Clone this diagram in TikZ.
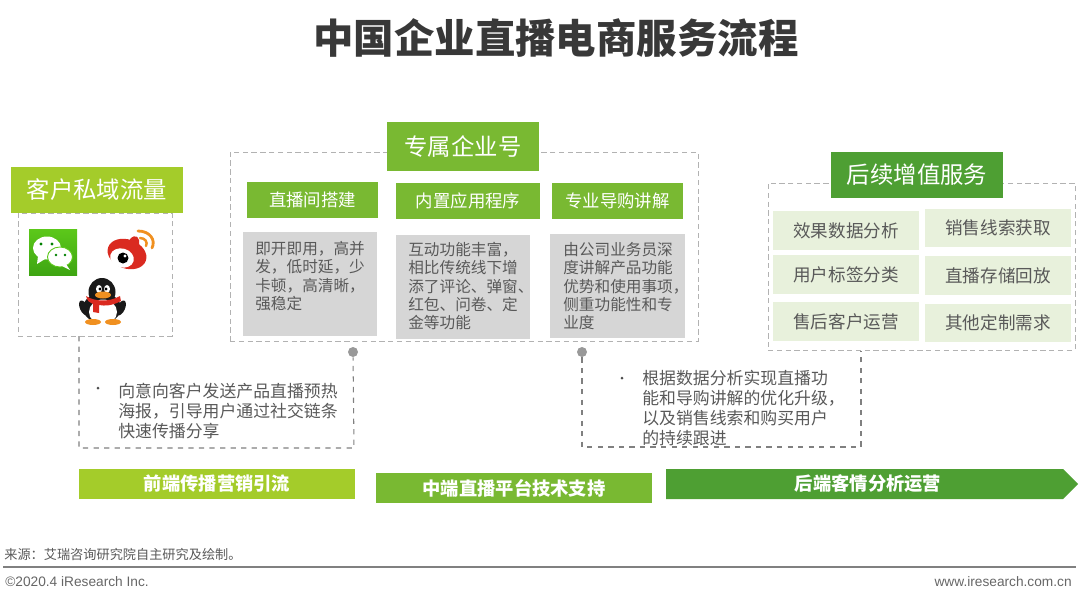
\documentclass[tikz,border=0pt]{standalone}
\usepackage{fontspec}
\setmainfont{Noto Sans CJK SC}
\newfontfamily\latinfont{Liberation Sans}
\usetikzlibrary{shapes.geometric,arrows.meta,positioning,calc}
\definecolor{limegreen}{HTML}{A4CC2A}
\definecolor{midgreen}{HTML}{79B932}
\definecolor{deepgreen}{HTML}{4E9F33}
\definecolor{cellgreen}{HTML}{E8F1DC}
\definecolor{greybox}{HTML}{D6D6D6}
\definecolor{bodygrey}{HTML}{595959}
\definecolor{weibored}{HTML}{DA2A20}
\definecolor{iconorange}{HTML}{F09020}
\definecolor{chatlight}{HTML}{5CC81A}
\definecolor{chatdark}{HTML}{3EA512}
\tikzset{
    framebox/.style={draw=black!30, densely dashed, line width=0.4pt, inner sep=0},
    headbox/.style={fill=#1, text=white, inner sep=0, font=\fontsize{13.3}{15}\selectfont},
    subbox/.style={fill=midgreen, text=white, inner sep=0, minimum height=0.72cm, font=\fontsize{9.9}{12}\selectfont},
    greyrect/.style={fill=greybox, inner sep=0, minimum width=2.68cm, minimum height=2.08cm},
    greytext/.style={anchor=north west, align=left, inner sep=0, text=bodygrey, font=\fontsize{8.9}{10.4}\selectfont},
    cellbox/.style={fill=cellgreen, text=bodygrey, inner sep=0, minimum width=2.92cm, minimum height=0.78cm, font=\fontsize{10}{12}\selectfont},
    notetext/.style={anchor=north west, align=left, inner sep=0, text=bodygrey, font=\fontsize{9.6}{11.35}\selectfont},
    bulletmark/.style={circle, fill=black!70, inner sep=0, minimum size=0.06cm},
    barbox/.style={fill=#1, text=white, inner sep=0, minimum width=5.52cm, minimum height=0.6cm, font=\fontsize{10.4}{12}\selectfont\bfseries},
    leadline/.style={draw=black!50, dashed, line width=0.6pt},
    leaddot/.style={circle, fill=black!40, inner sep=0, minimum size=0.2cm},
}
\begin{document}
\begin{tikzpicture}[x=0.02cm,y=-0.02cm]
    \useasboundingbox (0,0) rectangle (1080,602);

    \node[font=\fontsize{23}{26}\selectfont\bfseries, text=black!78] (title) at (556,38) {中国企业直播电商服务流程};

    % Customer traffic
    \node[framebox, minimum width=3.08cm, minimum height=2.46cm] (flowframe) at (95,274.5) {};
    \node[headbox=limegreen, minimum width=3.44cm, minimum height=0.92cm] (flowhead) at (97,190) {客户私域流量};

    % WeChat icon
    \shade[top color=chatlight, bottom color=chatdark] (29,229) rectangle (77,275);
    \fill[white] (47,248) ellipse [x radius=14, y radius=11.5];
    \fill[white] (38,256) -- (37,264) -- (45,259) -- cycle;
    \fill[white, draw=chatlight, line width=0.5pt] (60,257) ellipse [x radius=12.5, y radius=10];
    \fill[white] (66,264) -- (70,270) -- (62,266) -- cycle;
    \fill[green!50!black] (41,244) circle [radius=1.6] (52,244) circle [radius=1.6] (56,255) circle [radius=1.3] (65,255) circle [radius=1.3];

    % Weibo icon
    \fill[weibored, rotate around={-20:(127,254)}] (127,254) ellipse [x radius=20, y radius=14.5];
    \fill[weibored] (128,244) .. controls (130,235) and (138,234) .. (139,240) .. controls (141,246) and (135,252) .. (128,250) -- cycle;
    \fill[white, rotate around={-15:(122,258)}] (122,258) ellipse [x radius=12, y radius=9.5];
    \fill[black] (123,258) circle [radius=5.5];
    \fill[white] (125,256) circle [radius=1.6];
    \draw[iconorange, line width=1.6pt, line cap=round] (138,231) .. controls (150,231) and (156,240) .. (152,248);
    \draw[iconorange, line width=1.4pt, line cap=round] (140,238) .. controls (145,238) and (148,242) .. (146,246);

    % QQ icon
    \fill[black!90] (102,292) ellipse [x radius=13.5, y radius=14];
    \fill[black!90] (102,308) ellipse [x radius=19, y radius=15];
    \fill[black!90, rotate around={25:(84,308)}] (84,308) ellipse [x radius=4, y radius=8];
    \fill[black!90, rotate around={-25:(121,308)}] (121,308) ellipse [x radius=4, y radius=8];
    \fill[white] (103,312) ellipse [x radius=14, y radius=12.5];
    \fill[iconorange] (93,322) ellipse [x radius=8, y radius=3];
    \fill[iconorange] (113,322) ellipse [x radius=8, y radius=3];
    \fill[white] (99,289) ellipse [x radius=3, y radius=4] (107,289) ellipse [x radius=3, y radius=4];
    \fill[black] (100,289) circle [radius=1.6] (106,289) circle [radius=1.6];
    \fill[weibored] (86,296) .. controls (95,302) and (110,302) .. (120,296) -- (121,301) .. controls (112,306) and (104,306) .. (99,305) -- (99,313) -- (93,312) -- (93,304) .. controls (90,303) and (87,301) .. (86,296) -- cycle;
    \fill[iconorange] (103,295) ellipse [x radius=8, y radius=3.5];

    % Enterprise account
    \node[framebox, minimum width=9.36cm, minimum height=3.78cm] (corpframe) at (464,246.5) {};
    \node[headbox=midgreen, minimum width=3.04cm, minimum height=0.98cm] (corphead) at (463,146.5) {专属企业号};

    \node[subbox, minimum width=2.62cm] (subroom) at (312.5,200) {直播间搭建};
    \node[subbox, minimum width=2.88cm] (subapp) at (468,201) {内置应用程序};
    \node[subbox, minimum width=2.62cm] (subguide) at (617.5,201) {专业导购讲解};

    \node[greyrect] (greyroom) at (310,284) {};
    \node[greyrect] (greyapp) at (463,287) {};
    \node[greyrect, minimum width=2.7cm] (greyguide) at (617.5,286) {};

    \node[greytext] (textroom) at (255,241) {即开即用，高并\\发，低时延，少\\卡顿，高清晰，\\强稳定};
    \node[greytext] (textapp) at (408,242) {互动功能丰富，\\相比传统线下增\\添了评论、弹窗、\\红包、问卷、定\\金等功能};
    \node[greytext] (textguide) at (563,242) {由公司业务员深\\度讲解产品功能\\优势和使用事项，\\侧重功能性和专\\业度};

    % Follow-up services
    \node[framebox, minimum width=6.14cm, minimum height=3.34cm] (servframe) at (921.5,266.5) {};
    \node[headbox=deepgreen, minimum width=3.44cm, minimum height=0.92cm] (servhead) at (917,175) {后续增值服务};

    \node[cellbox] (cellA) at (846,230.5) {效果数据分析};
    \node[cellbox] (cellB) at (846,274.5) {用户标签分类};
    \node[cellbox] (cellC) at (846,321.5) {售后客户运营};
    \node[cellbox] (cellD) at (998,228) {销售线索获取};
    \node[cellbox] (cellE) at (998,275.5) {直播存储回放};
    \node[cellbox] (cellF) at (998,323) {其他定制需求};

    % Dashed leads
    \node[leaddot] (dotleft) at (353,352) {};
    \node[leaddot] (dotright) at (582,352) {};
    \coordinate (flowfoot) at (79,336);
    \coordinate (cornerA) at (79,448);
    \coordinate (cornerB) at (354,448);
    \coordinate (cornerC) at (582,447);
    \coordinate (cornerD) at (861,447);
    \coordinate (servfoot) at (861,351);
    \draw[leadline] (flowfoot) -- (cornerA) -- (cornerB) -- (dotleft);
    \draw[leadline] (dotright) -- (cornerC) -- (cornerD) -- (servfoot);

    \node[bulletmark] (bulletleft) at (98,388) {};
    \node[notetext] (noteleft) at (118,383) {向意向客户发送产品直播预热\\海报，引导用户通过社交链条\\快速传播分享};
    \node[bulletmark] (bulletright) at (622,378) {};
    \node[notetext] (noteright) at (642,370) {根据数据分析实现直播功\\能和导购讲解的优化升级，\\以及销售线索和购买用户\\的持续跟进};

    % Bars
    \node[barbox=limegreen] (barfront) at (217,484) {前端传播营销引流};
    \node[barbox=midgreen] (barmid) at (514,488) {中端直播平台技术支持};
    \fill[deepgreen] (666,469) -- (1063,469) -- (1078,484) -- (1063,499) -- (666,499) -- cycle;
    \node[text=white, inner sep=0, font=\fontsize{10.4}{12}\selectfont\bfseries] (barback) at (868,484) {后端客情分析运营};

    % Footer
    \node[anchor=west, inner sep=0, text=black!65, font=\fontsize{7.5}{9}\selectfont] (source) at (4,555) {来源：艾瑞咨询研究院自主研究及绘制。};
    \coordinate (ruleA) at (3,567);
    \coordinate (ruleB) at (1076,567);
    \draw[black!50, line width=0.9pt] (ruleA) -- (ruleB);
    \node[anchor=west, inner sep=0, text=black!60, font=\fontsize{7.8}{9}\selectfont\latinfont] (copyright) at (5,582) {©2020.4 iResearch Inc.};
    \node[anchor=east, inner sep=0, text=black!60, font=\fontsize{7.8}{9}\selectfont\latinfont] (website) at (1072,582) {www.iresearch.com.cn};
\end{tikzpicture}
\end{document}
